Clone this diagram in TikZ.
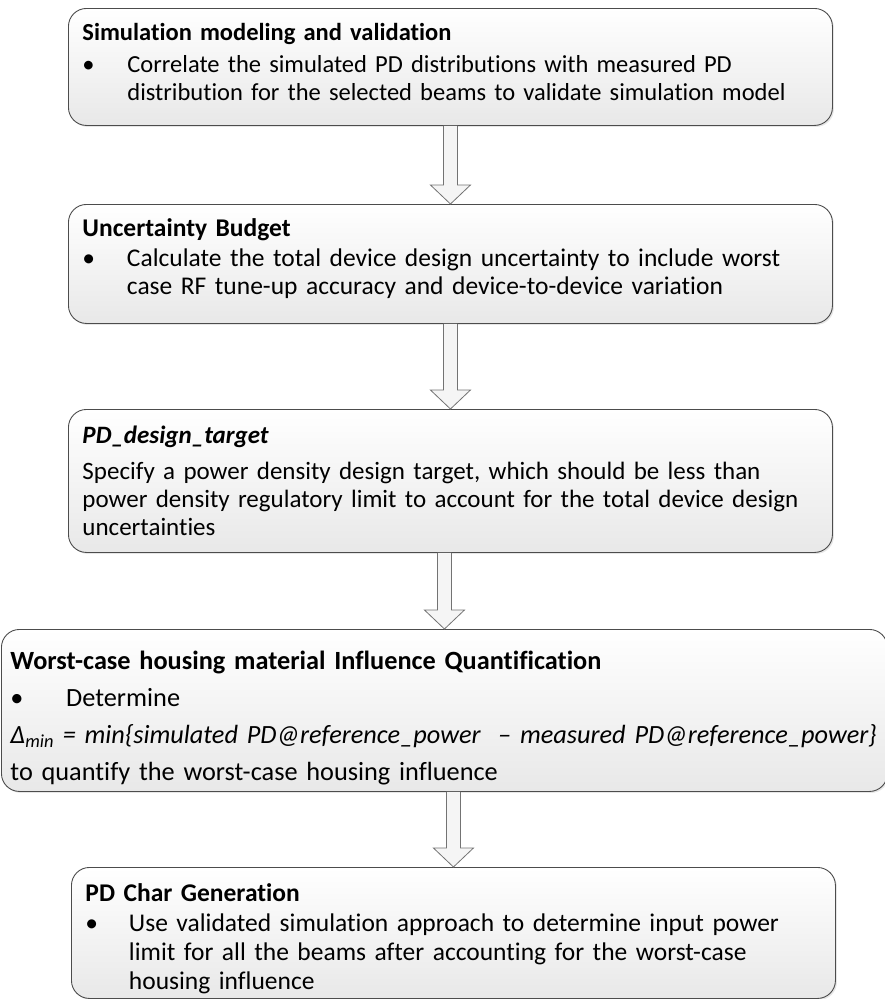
\documentclass[tikz,border=0pt]{standalone}
\usepackage{fontspec}
\setmainfont{Carlito}[Ligatures={TeX,NoCommon}]
\usepackage{tikz}
\usetikzlibrary{calc,shadows}
\tikzstyle{step box}=[draw=black!70, line width=0.9pt, rounded corners=18pt, top color=white, bottom color=black!9, drop shadow={shadow xshift=1.5pt, shadow yshift=-1.5pt, opacity=0.2}, anchor=north west, align=left, inner xsep=14pt, inner ysep=0pt, font=\fontsize{25}{28}\selectfont]
\tikzstyle{block arrow}=[draw=black!55, line width=0.8pt, fill=black!4, line join=miter]
\newcommand{\bul}[1][45pt]{\makebox[#1][l]{\textbullet}}
\newcommand{\ind}[1][45pt]{\hspace*{#1}}
\newcommand{\pushup}[1]{\rule[-#1]{0pt}{#1}}
\newcommand{\pushdown}[1]{\rule{0pt}{#1}}

\begin{document}
\begin{tikzpicture}[x=1pt, y=-1pt]
	\useasboundingbox (0,0) rectangle (885,999);
	% First we draw the steps
	\node[step box, text width=736pt, minimum height=117pt, font=\fontsize{24.5}{28}\selectfont] (s1) at (68,8) {\textbf{Simulation modeling and validation}\\[4pt]
		\bul Correlate the simulated PD distributions with measured PD\\
		\ind distribution for the selected beams to validate simulation model\pushup{10pt}};
	
	\node[step box, text width=736pt, minimum height=119pt, font=\fontsize{25.5}{28}\selectfont] (s2) at (68,204) {\textbf{Uncertainty Budget}\\[2pt]
		\bul[36pt] Calculate the total device design uncertainty to include worst\\
		\ind[36pt] case RF tune-up accuracy and device-to-device variation\pushup{15pt}};
	
	\node[step box, text width=736pt, minimum height=143pt] (s3) at (68,409) {\textbf{\textit{PD\_design\_target}}\\[8pt]
		Specify a power density design target, which should be less than\\
		power density regulatory limit to account for the total device design\\
		uncertainties};
	
	\node[step box, inner xsep=9pt, text width=868pt, minimum height=162pt, font=\fontsize{26.3}{31}\selectfont] (s4) at (1,629) {\pushdown{33pt}\textbf{Worst-case housing material Influence Quantification}\\[6pt]
		\bul[47pt] Determine\\[6pt]
		\textit{Δ\textsubscript{min} = min\{simulated PD@reference\_power~ – measured PD@reference\_power\}}\\[6pt]
		to quantify the worst-case housing influence};
	
	\node[step box, text width=736pt, minimum height=131pt, font=\fontsize{25.5}{29}\selectfont] (s5) at (71,867) {\pushdown{30pt}\textbf{PD Char Generation}\\[1pt]
		\bul[35pt] Use validated simulation approach to determine input power\\
		\ind[35pt] limit for all the beams after accounting for the worst-case\\
		\ind[35pt] housing influence};
	
	% Connect steps with block arrows
	\foreach \source/\dest in {s1/s2, s2/s3, s3/s4, s4/s5}
	\draw[block arrow] ($(\source.south -| \dest.north)+(-7,0)$) -- ($(\dest.north)+(-7,-19)$) -- ($(\dest.north)+(-20,-19)$) -- (\dest.north) -- ($(\dest.north)+(20,-19)$) -- ($(\dest.north)+(7,-19)$) -- ($(\source.south -| \dest.north)+(7,0)$);
\end{tikzpicture}
\end{document}
